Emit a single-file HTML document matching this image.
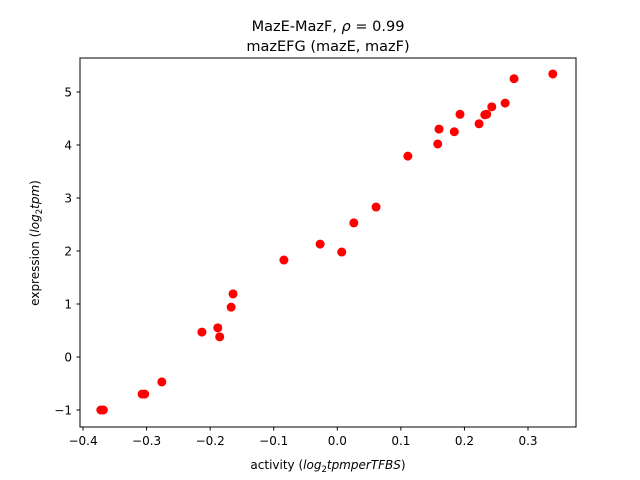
<!DOCTYPE html>
<html><head><meta charset="utf-8"><style>
body{margin:0;background:#fff;}
svg{display:block;font-family:"DejaVu Sans","Liberation Sans",sans-serif;}
</style></head><body>
<svg id="chart" width="640" height="480" viewBox="0 0 640 480">
<rect width="640" height="480" fill="#fff"/>
<text x="328" y="31" font-size="14.5" text-anchor="middle">MazE-MazF, <tspan font-style="italic">ρ</tspan> = 0.99</text>
<text x="328" y="51" font-size="14.5" text-anchor="middle">mazEFG (mazE, mazF)</text>
<g id="marks"></g>
<rect x="80" y="58" width="496" height="369" fill="none" stroke="#000" stroke-width="1"/>
<g id="xticks"></g>
<g id="yticks"></g>
<text x="328" y="469" font-size="12" text-anchor="middle">activity (<tspan font-style="italic">log</tspan><tspan font-size="8.5" dy="3">2</tspan><tspan dy="-3" font-style="italic">tpmperTFBS</tspan>)</text>
<text transform="translate(39,243) rotate(-90)" font-size="12" text-anchor="middle">expression (<tspan font-style="italic">log</tspan><tspan font-size="8.5" dy="3">2</tspan><tspan dy="-3" font-style="italic">tpm</tspan>)</text>
</svg>
<script>
const xValues=[-0.372,-0.368,-0.307,-0.303,-0.276,-0.213,-0.188,-0.185,-0.167,-0.164,-0.084,-0.027,0.007,0.026,0.061,0.111,0.158,0.160,0.184,0.193,0.223,0.232,0.235,0.243,0.264,0.278,0.339];
const yValues=[-1.0,-1.0,-0.70,-0.70,-0.47,0.47,0.55,0.38,0.94,1.19,1.83,2.13,1.98,2.53,2.83,3.79,4.02,4.30,4.25,4.58,4.40,4.57,4.58,4.72,4.79,5.25,5.34];
const xTickValues=[-0.4,-0.3,-0.2,-0.1,0.0,0.1,0.2,0.3];
const xTickLabels=["−0.4","−0.3","−0.2","−0.1","0.0","0.1","0.2","0.3"];
const yTickValues=[-1,0,1,2,3,4,5];
const yTickLabels=["−1","0","1","2","3","4","5"];
const NS="http://www.w3.org/2000/svg";
const xs=v=>337.3+v*635.7;
const ys=v=>357-v*53;
const marks=document.getElementById('marks');
xValues.forEach((x,i)=>{
  const c=document.createElementNS(NS,'circle');
  
  
  c.setAttribute('cx',xs(x));c.setAttribute('cy',ys(yValues[i]));
  c.setAttribute('r',4.5);c.setAttribute('fill','#ff0000');
  marks.appendChild(c);
});
const xt=document.getElementById('xticks');
xTickValues.forEach((v,i)=>{
  const l=document.createElementNS(NS,'line');
  
  
  l.setAttribute('x1',xs(v));l.setAttribute('x2',xs(v));l.setAttribute('y1',427);l.setAttribute('y2',430.5);l.setAttribute('stroke','#000');
  xt.appendChild(l);
  const t=document.createElementNS(NS,'text');
  
  
  t.setAttribute('x',xs(v));t.setAttribute('y',445);t.setAttribute('font-size','12');t.setAttribute('text-anchor','middle');
  t.textContent=xTickLabels[i];xt.appendChild(t);
});
const yt=document.getElementById('yticks');
yTickValues.forEach((v,i)=>{
  const l=document.createElementNS(NS,'line');
  
  
  l.setAttribute('x1',76.5);l.setAttribute('x2',80);l.setAttribute('y1',ys(v));l.setAttribute('y2',ys(v));l.setAttribute('stroke','#000');
  yt.appendChild(l);
  const t=document.createElementNS(NS,'text');
  
  
  t.setAttribute('x',72);t.setAttribute('y',ys(v)+4.5);t.setAttribute('font-size','12');t.setAttribute('text-anchor','end');
  t.textContent=yTickLabels[i];yt.appendChild(t);
});
</script>
</body></html>
